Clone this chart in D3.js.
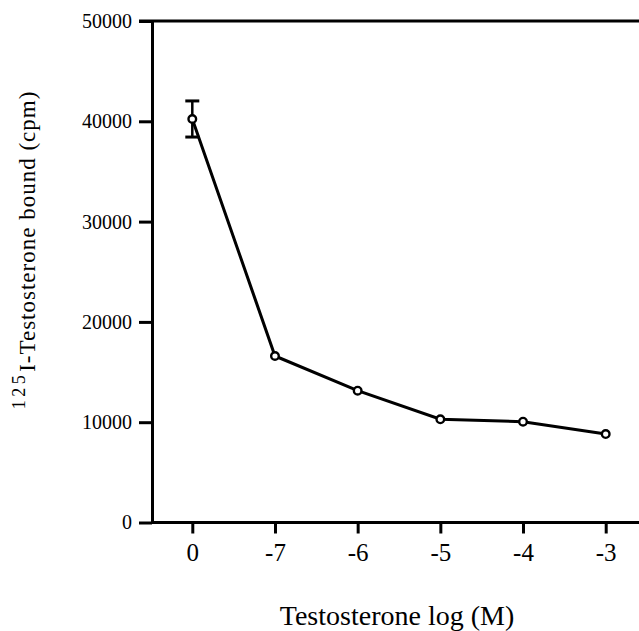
<!DOCTYPE html>
<html lang="en">
<head>
<meta charset="utf-8">
<script src="https://cdn.jsdelivr.net/npm/d3@7"></script>
<style>
  body { margin: 0; background: #fff; }
  text { font-family: "Liberation Serif", "Times New Roman", serif; fill: #000; }
  .axis path, .axis line { stroke: #000; stroke-width: 3; }
</style>
</head>
<body>
<script>
// data
const doses = ["0", "-7", "-6", "-5", "-4", "-3"];
const bound = [40230, 16600, 13140, 10290, 10050, 8820];
const boundErr = [1800, 0, 0, 0, 0, 0];
const yTicks = [0, 10000, 20000, 30000, 40000, 50000];

const width = 639, height = 631;
const plotLeft = 152, plotTop = 21, plotBottom = 522.5;

const svg = d3.select("body").append("svg")
  .attr("width", width)
  .attr("height", height);

const x = d3.scalePoint()
  .domain(doses)
  .range([192.3, 605.7]);

const y = d3.scaleLinear()
  .domain([0, 50000])
  .range([plotBottom, plotTop]);

// y axis
const yAxis = svg.append("g")
  .attr("class", "axis")
  .attr("transform", "translate(" + plotLeft + ",0)")
  .call(d3.axisLeft(y).tickValues(yTicks).tickFormat(d3.format("d")).tickSize(13).tickPadding(7).tickSizeOuter(0));
yAxis.selectAll("text").style("font-size", "20px");

// top line
svg.append("line")
  .attr("x1", plotLeft - 13).attr("x2", width)
  .attr("y1", y(50000)).attr("y2", y(50000))
  .attr("stroke", "#000").attr("stroke-width", 3);

// x axis
const xAxis = svg.append("g")
  .attr("class", "axis")
  .attr("transform", "translate(0," + plotBottom + ")")
  .call(d3.axisBottom(x).tickSize(11).tickPadding(10).tickSizeOuter(0));
xAxis.select(".domain").attr("d", "M" + plotLeft + ",0H" + width);
xAxis.selectAll("text").style("font-size", "25px");

// line
const pts = doses.map((d, i) => ({ dose: d, v: bound[i], e: boundErr[i] }));

svg.append("path")
  .datum(pts)
  .attr("fill", "none")
  .attr("stroke", "#000")
  .attr("stroke-width", 3)
  .attr("d", d3.line().x(d => x(d.dose)).y(d => y(d.v)));

// error bars
const eb = svg.selectAll(".err")
  .data(pts.filter(d => d.e > 0))
  .enter().append("g");
eb.append("line")
  .attr("x1", d => x(d.dose)).attr("x2", d => x(d.dose))
  .attr("y1", d => y(d.v + d.e)).attr("y2", d => y(d.v - d.e))
  .attr("stroke", "#000").attr("stroke-width", 2.5);
eb.append("line")
  .attr("x1", d => x(d.dose) - 7).attr("x2", d => x(d.dose) + 7)
  .attr("y1", d => y(d.v + d.e)).attr("y2", d => y(d.v + d.e))
  .attr("stroke", "#000").attr("stroke-width", 3);
eb.append("line")
  .attr("x1", d => x(d.dose) - 7).attr("x2", d => x(d.dose) + 7)
  .attr("y1", d => y(d.v - d.e)).attr("y2", d => y(d.v - d.e))
  .attr("stroke", "#000").attr("stroke-width", 3);

// points
svg.selectAll(".pt")
  .data(pts)
  .enter().append("circle")
  .attr("cx", d => x(d.dose))
  .attr("cy", d => y(d.v))
  .attr("r", 3.8)
  .attr("fill", "#fff")
  .attr("stroke", "#000")
  .attr("stroke-width", 2.4);

// x title
svg.append("text")
  .attr("x", 397)
  .attr("y", 625)
  .attr("text-anchor", "middle")
  .style("font-size", "28px")
  .text("Testosterone log (M)");

// y title
const yt = svg.append("text")
  .attr("transform", "translate(35,250) rotate(-90)")
  .attr("text-anchor", "middle");
yt.append("tspan")
  .attr("dy", -10)
  .style("font-size", "18px")
  .style("letter-spacing", "3.5px")
  .text("125");
yt.append("tspan")
  .attr("dy", 10)
  .style("font-size", "23px")
  .style("letter-spacing", "1px")
  .text("I-Testosterone bound (cpm)");
</script>
</body>
</html>
